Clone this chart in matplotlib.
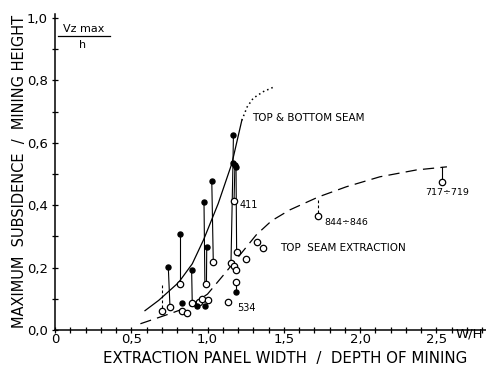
import matplotlib
matplotlib.use("Agg")
import matplotlib.pyplot as plt
from matplotlib.ticker import MultipleLocator, FixedLocator

# ---- data ----
x_ticks = [0, 0.5, 1.0, 1.5, 2.0, 2.5]
x_tick_labels = ["0", "0,5", "1,0", "1,5", "2,0", "2,5"]
y_ticks = [0.0, 0.2, 0.4, 0.6, 0.8, 1.0]
y_tick_labels = ["0,0", "0,2", "0,4", "0,6", "0,8", "1,0"]

# top & bottom seam curve (solid part, dotted continuation)
tb_x = [0.59, 0.68, 0.81, 0.90, 0.975, 1.07, 1.16, 1.225]
tb_y = [0.062, 0.095, 0.152, 0.212, 0.29, 0.405, 0.534, 0.672]
tb_dot_x = [1.225, 1.26, 1.30, 1.366, 1.431]
tb_dot_y = [0.672, 0.715, 0.743, 0.764, 0.778]

# top seam extraction curve (dashed)
ts_x = [0.56, 0.65, 0.77, 0.88, 1.0, 1.12, 1.22, 1.32, 1.42, 1.54, 1.73, 1.91, 2.13, 2.37, 2.57]
ts_y = [0.02, 0.035, 0.055, 0.075, 0.115, 0.185, 0.245, 0.305, 0.35, 0.385, 0.427, 0.459, 0.491, 0.513, 0.523]

# filled dots: top & bottom seam extraction
filled_x = [1.17, 1.167, 1.18, 1.187, 1.028, 0.977, 0.82, 0.743, 0.896, 0.995, 0.835, 0.929, 0.984, 1.185]
filled_y = [0.625, 0.535, 0.529, 0.522, 0.479, 0.41, 0.308, 0.201, 0.192, 0.265, 0.086, 0.077, 0.077, 0.123]

# open circles: top seam extraction
open_x = [0.82, 0.754, 0.90, 0.70, 0.831, 0.864, 0.988, 0.944, 0.966, 1.0, 1.038, 1.174,
          1.191, 1.154, 1.176, 1.185, 1.185, 1.136, 1.25, 1.323, 1.362, 1.727, 2.54]
open_y = [0.147, 0.073, 0.086, 0.06, 0.06, 0.055, 0.147, 0.091, 0.098, 0.096, 0.217, 0.414,
          0.251, 0.216, 0.205, 0.192, 0.155, 0.091, 0.227, 0.283, 0.264, 0.365, 0.475]

# solid links between paired measurements
link_x0 = [0.743, 0.82, 0.896, 0.977, 0.995, 1.028, 1.17, 1.167, 1.18, 1.187, 1.185, 2.54]
link_y0 = [0.201, 0.308, 0.192, 0.41, 0.265, 0.479, 0.625, 0.535, 0.529, 0.522, 0.155, 0.521]
link_x1 = [0.754, 0.82, 0.90, 0.983, 0.993, 1.038, 1.167, 1.154, 1.174, 1.191, 1.185, 2.54]
link_y1 = [0.073, 0.147, 0.086, 0.147, 0.147, 0.217, 0.535, 0.216, 0.414, 0.251, 0.123, 0.475]

# dashed links
dlink_x = [0.70, 1.727]
dlink_y0 = [0.144, 0.417]
dlink_y1 = [0.06, 0.365]

plt.rcParams['font.family'] = ['DejaVu Sans']

W, H = 486, 369
fig = plt.figure(figsize=(W / 100, H / 100), dpi=100)
ax = fig.add_axes([55 / W, 39 / H, 431 / W, 316 / H])
ax.set_xlim(0, 431 / 152.5)
ax.set_ylim(0, 316 / 312)

for s in ["top", "right"]:
    ax.spines[s].set_visible(False)
for s in ["left", "bottom"]:
    ax.spines[s].set_linewidth(1.1)
    ax.spines[s].set_color("black")

ax.xaxis.set_major_locator(FixedLocator(x_ticks))
ax.set_xticklabels(x_tick_labels)
ax.xaxis.set_minor_locator(MultipleLocator(0.1))
ax.yaxis.set_major_locator(FixedLocator(y_ticks))
ax.set_yticklabels(y_tick_labels)
ax.yaxis.set_minor_locator(MultipleLocator(0.1))
ax.tick_params(which="both", direction="inout", length=4, width=0.9, colors="black")
ax.tick_params(axis="x", which="major", labelsize=9.5, pad=0.5)
ax.tick_params(axis="y", which="major", labelsize=9.5, pad=3)

lw = 0.9
ax.plot(tb_x, tb_y, color="black", lw=lw)
ax.plot(tb_dot_x, tb_dot_y, color="black", lw=1.1, linestyle=(0, (1, 2)))
ax.plot(ts_x, ts_y, color="black", lw=lw, linestyle=(0, (9, 5)))

for xa, ya, xb, yb in zip(link_x0, link_y0, link_x1, link_y1):
    ax.plot([xa, xb], [ya, yb], color="black", lw=0.8)
for xa, ya, yb in zip(dlink_x, dlink_y0, dlink_y1):
    ax.plot([xa, xa], [ya, yb], color="black", lw=0.8, linestyle=(0, (2.5, 2)))

ax.plot(open_x, open_y, linestyle="none", marker="o", ms=4.6, mfc="white", mec="black", mew=0.9)
ax.plot(filled_x, filled_y, linestyle="none", marker="o", ms=3.6, mfc="black", mec="black")

def ftext(px, py, s, **kw):
    fig.text(px / W, 1 - py / H, s, **kw)

ftext(252, 118, "TOP & BOTTOM SEAM", fontsize=7.5, ha="left", va="center")
ftext(280, 248, "TOP  SEAM EXTRACTION", fontsize=7.5, ha="left", va="center")
ftext(240, 205, "411", fontsize=7, ha="left", va="center")
ftext(237, 308, "534", fontsize=7, ha="left", va="center")
ftext(324, 222, "844÷846", fontsize=6.8, ha="left", va="center")
ftext(425, 192, "717÷719", fontsize=6.8, ha="left", va="center")

ftext(84, 29, "Vz max", fontsize=8, ha="center", va="center")
fig.add_artist(plt.Line2D([58 / W, 110 / W], [1 - 36 / H, 1 - 36 / H], color="black", lw=0.9))
ftext(83, 45, "h", fontsize=8, ha="center", va="center")

ftext(469, 334, "W/H", fontsize=9.5, ha="center", va="center")
ftext(285, 359, "EXTRACTION PANEL WIDTH  /  DEPTH OF MINING", fontsize=10.8, ha="center", va="center")
ftext(20, 171, "MAXIMUM  SUBSIDENCE  /  MINING HEIGHT", fontsize=10.5, ha="center", va="center", rotation=90)

fig.savefig("out.png", dpi=100, facecolor="white")
